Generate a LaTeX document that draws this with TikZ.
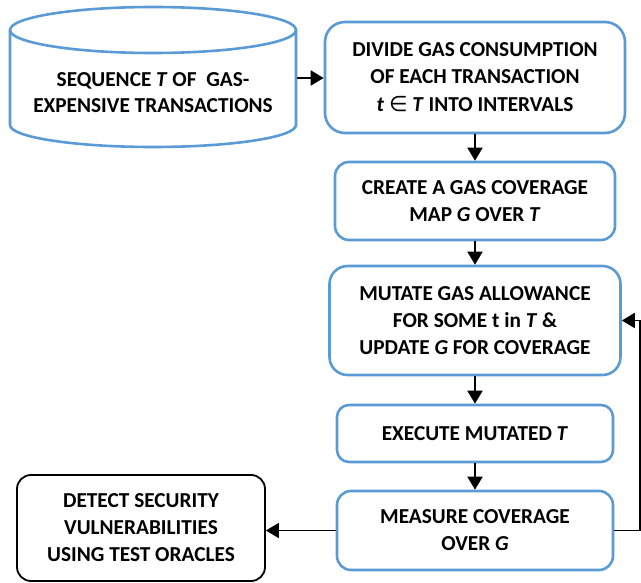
\documentclass[tikz,border=0pt]{standalone}
\usepackage{fontspec}
\setmainfont{Carlito}
\newfontfamily\symfont{DejaVu Sans}
\usetikzlibrary{arrows.meta}
\definecolor{boxblue}{RGB}{91,155,213}

\begin{document}
\begin{tikzpicture}[x=1pt, y=-1pt,
  stepbox/.style={draw=boxblue, line width=2.6pt, rounded corners=14pt, fill=white,
    align=center, inner sep=0pt, font=\fontsize{21.3}{27}\selectfont\bfseries},
  endbox/.style={stepbox, draw=black, line width=1.8pt},
  flow/.style={line width=1.8pt, -{Triangle[length=13pt,width=15pt]}}]

\useasboundingbox (0,0) rectangle (641,583);

% -------- cylinder -----------
\draw [boxblue, line width=2.6pt] (153,30) ellipse [x radius=143, y radius=23];
\draw [boxblue, line width=2.6pt] (10,30) -- (10,125)
      arc [start angle=180, end angle=0, x radius=143, y radius=22] -- (296,30);
\node [align=center, inner sep=0pt, font=\fontsize{21.3}{25.5}\selectfont\bfseries] (seq)
      at (153,92.5) {SEQUENCE \textit{T} OF~ GAS-\\EXPENSIVE TRANSACTIONS};
\coordinate (seqport) at (297,78);

% -------- steps -----------
\node [stepbox, rounded corners=20pt, minimum width=300pt, minimum height=111pt] (divide)
      at (475,77.5) {DIVIDE GAS CONSUMPTION\\OF EACH TRANSACTION\\[1pt]\textit{t} {\symfont\mdseries ∈} \textit{T} INTO INTERVALS};
\node [stepbox, minimum width=280pt, minimum height=78pt] (create)
      at (475,201) {CREATE A GAS COVERAGE\\MAP \textit{G} OVER \textit{T}};
\node [stepbox, rounded corners=18pt, minimum width=291pt, minimum height=109pt] (mutate)
      at (475,320.5) {MUTATE GAS ALLOWANCE\\FOR SOME t in \textit{T} \&\\UPDATE \textit{G} FOR COVERAGE};
\node [stepbox, rounded corners=12pt, minimum width=276pt, minimum height=57pt] (execute)
      at (475,433.5) {EXECUTE MUTATED \textit{T}};
\node [stepbox, minimum width=276pt, minimum height=79pt] (measure)
      at (475,530.5) {MEASURE COVERAGE\\OVER \textit{G}};
\node [endbox, minimum width=248pt, minimum height=106pt] (detect)
      at (141,528) {DETECT SECURITY\\VULNERABILITIES\\USING TEST ORACLES};

% -------- arrows -----------
\draw [flow] (seqport) -- (seqport -| divide.west);
\draw [flow] (divide.south) -- (create.north);
\draw [flow] (create.south) -- (mutate.north);
\draw [flow] (mutate.south) -- (execute.north);
\draw [flow] (execute.south) -- (measure.north);
\draw [flow] (measure.west) -- (measure.west -| detect.east);
\draw [flow] (measure.east) -- ++(26,0) |- (mutate.east);
\end{tikzpicture}
\end{document}
